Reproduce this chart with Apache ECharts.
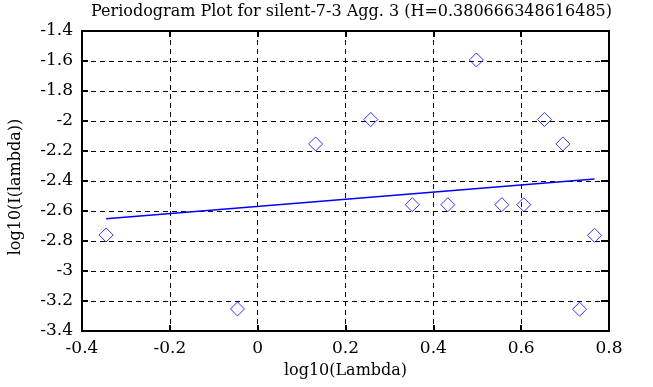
<!DOCTYPE html>
<html>
<head>
<meta charset="utf-8">
<script src="https://cdn.jsdelivr.net/npm/echarts@6/dist/echarts.min.js"></script>
<style>
html,body{margin:0;padding:0;background:#fff;}
#chart{width:653px;height:387px;}
</style>
</head>
<body>
<div id="chart"></div>
<script>
// Data
const titleText = 'Periodogram Plot for silent-7-3 Agg. 3 (H=0.380666348616485)';
const logLambda = [-0.345, -0.046, 0.132, 0.2575, 0.352, 0.433, 0.498, 0.556, 0.606, 0.653, 0.695, 0.733, 0.767];
const logPeriodogram = [-2.76, -3.253, -2.153, -1.99, -2.558, -2.558, -1.593, -2.558, -2.558, -1.99, -2.153, -3.255, -2.762];
const hurst = 0.380666348616485;
const fitSlope = 1 - 2 * hurst;
const fitIntercept = -2.569;
const xTicks = [-0.4, -0.2, 0, 0.2, 0.4, 0.6, 0.8];
const yTicks = [-3.4, -3.2, -3, -2.8, -2.6, -2.4, -2.2, -2, -1.8, -1.6, -1.4];

const scatterData = logLambda.map((x, i) => [x, logPeriodogram[i]]);
const xMin = Math.min(...logLambda), xMax = Math.max(...logLambda);
const fitData = [[xMin, fitIntercept + fitSlope * xMin], [xMax, fitIntercept + fitSlope * xMax]];

const FONT = 'DejaVu Serif';
const fmt = v => String(Math.round(v * 10) / 10);
const gridLine = {show: true, lineStyle: {color: '#000', width: 1, type: [5, 4]}};
const tick = {show: true, inside: true, length: 6, lineStyle: {color: '#000', width: 2}};
const noLine = {show: false, onZero: false};

const chart = echarts.init(document.getElementById('chart'), null, {renderer: 'canvas'});
chart.setOption({
  animation: false,
  backgroundColor: '#fff',
  title: {
    text: titleText,
    left: 86,
    top: -1,
    textStyle: {fontFamily: FONT, fontSize: 16, fontWeight: 'normal', color: '#000'}
  },
  grid: {left: 81, right: 44, top: 31, bottom: 56, show: true, borderColor: '#000', borderWidth: 2, backgroundColor: 'transparent'},
  xAxis: [{
    type: 'value', position: 'bottom',
    min: xTicks[0], max: xTicks[xTicks.length - 1], interval: 0.2,
    name: 'log10(Lambda)', nameLocation: 'middle', nameGap: 32,
    nameTextStyle: {fontFamily: FONT, fontSize: 16, color: '#000'},
    axisLine: noLine, axisTick: tick,
    axisLabel: {fontFamily: FONT, fontSize: 17, color: '#000', margin: 9, formatter: fmt},
    splitLine: gridLine
  }, {
    type: 'value', position: 'top',
    min: xTicks[0], max: xTicks[xTicks.length - 1], interval: 0.2,
    axisLine: noLine, axisTick: tick, axisLabel: {show: false}, splitLine: {show: false}
  }],
  yAxis: [{
    type: 'value', position: 'left',
    min: yTicks[0], max: yTicks[yTicks.length - 1], interval: 0.2,
    name: 'log10(I(lambda))', nameLocation: 'middle', nameGap: 58,
    nameTextStyle: {fontFamily: FONT, fontSize: 16, color: '#000', padding: [0, 12, 0, 0]},
    axisLine: noLine, axisTick: tick,
    axisLabel: {fontFamily: FONT, fontSize: 17, color: '#000', margin: 9, formatter: fmt},
    splitLine: gridLine
  }, {
    type: 'value', position: 'right',
    min: yTicks[0], max: yTicks[yTicks.length - 1], interval: 0.2,
    axisLine: noLine, axisTick: {show: true, inside: true, length: 8, lineStyle: {color: '#000', width: 2}},
    axisLabel: {show: false}, splitLine: {show: false}
  }],
  series: [{
    type: 'scatter',
    xAxisIndex: 0, yAxisIndex: 0,
    data: scatterData,
    symbol: 'diamond', symbolSize: 14,
    itemStyle: {color: 'rgba(0,0,0,0)', borderColor: '#0000ff', borderWidth: 1},
    z: 3
  }, {
    type: 'line',
    xAxisIndex: 0, yAxisIndex: 0,
    data: fitData,
    showSymbol: false, symbol: 'none',
    lineStyle: {color: '#0000ff', width: 1.5},
    z: 4
  }]
});
</script>
</body>
</html>
